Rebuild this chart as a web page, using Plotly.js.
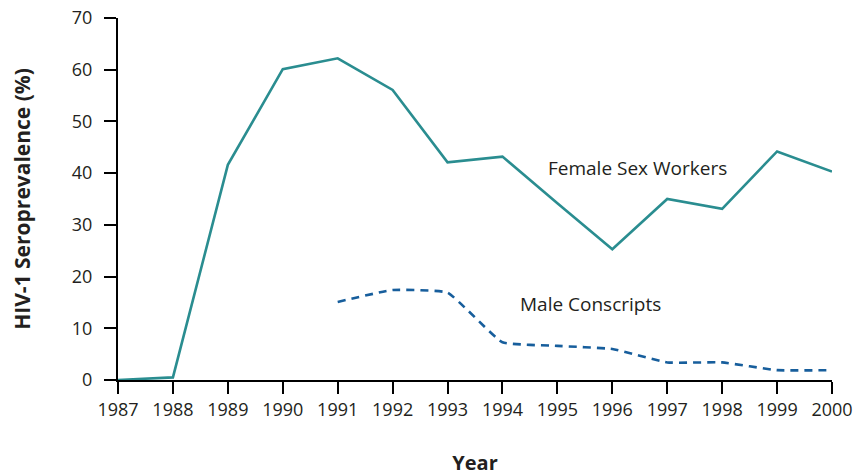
<!DOCTYPE html>
<html><head><meta charset="utf-8">
<script src="https://cdn.plot.ly/plotly-3.0.1.min.js"></script>
<style>html,body{margin:0;padding:0;background:#fff}#chart{width:855px;height:476px}</style>
</head><body><div id="chart"></div>
<script>
const yearsFSW = [1987,1988,1989,1990,1991,1992,1993,1994,1995,1996,1997,1998,1999,2000];
const femaleSexWorkers = [0,0.5,41.6,60.1,62.2,56.1,42.1,43.2,34.2,25.3,35.0,33.1,44.2,40.3];
const yearsMC = [1991,1992,1993,1994,1995,1996,1997,1998,1999,2000];
const maleConscripts = [15.1,17.4,16.9,7.3,6.6,6.0,3.4,3.4,1.9,1.9];
const tickYears = [1987,1988,1989,1990,1991,1992,1993,1994,1995,1996,1997,1998,1999,2000];
const tickPct = [0,10,20,30,40,50,60,70];

const font = "'Open Sans', 'Noto Sans', sans-serif";
const txt = '#231f20';

const traces = [
  {x: yearsFSW, y: femaleSexWorkers, mode:'lines', name:'Female Sex Workers',
   line:{color:'#2a8d90', width:2.6}},
  {x: yearsMC, y: maleConscripts, mode:'lines', name:'Male Conscripts',
   line:{color:'#175e9c', width:2.6, dash:'8px,6px', shape:'spline', smoothing:0.35}}
];

const layout = {
  width:855, height:476,
  margin:{l:118, r:23, t:18, b:96},
  paper_bgcolor:'#fff', plot_bgcolor:'#fff',
  showlegend:false,
  font:{family:font, color:txt, size:18},
  xaxis:{range:[1987,2000], tickvals:tickYears, ticktext:tickYears.map(String),
    showgrid:false, zeroline:false, showline:true, linecolor:'#000', linewidth:2,
    ticks:'outside', ticklen:12, tickwidth:2, tickcolor:'#000',
    tickfont:{size:18, color:txt},
    title:{text:'<b>Year</b>', font:{size:20, color:txt}, standoff:41}},
  yaxis:{range:[0,70], tickvals:tickPct, showgrid:false, zeroline:false,
    showline:true, linecolor:'#000', linewidth:2,
    ticks:'outside', ticklen:12, tickwidth:2, tickcolor:'#000',
    ticklabelstandoff:8,
    tickfont:{size:18, color:txt},
    title:{text:'<b>HIV-1 Seroprevalence (%)</b>', font:{size:21, color:txt}, standoff:35}},
  annotations:[
    {x:1996.45, y:41, xref:'x', yref:'y', text:'Female Sex Workers', showarrow:false,
     font:{size:19, color:txt}},
    {x:1995.6, y:14.7, xref:'x', yref:'y', text:'Male Conscripts', showarrow:false,
     font:{size:19, color:txt}}
  ]
};
Plotly.newPlot('chart', traces, layout, {displayModeBar:false, staticPlot:true});
</script></body></html>
